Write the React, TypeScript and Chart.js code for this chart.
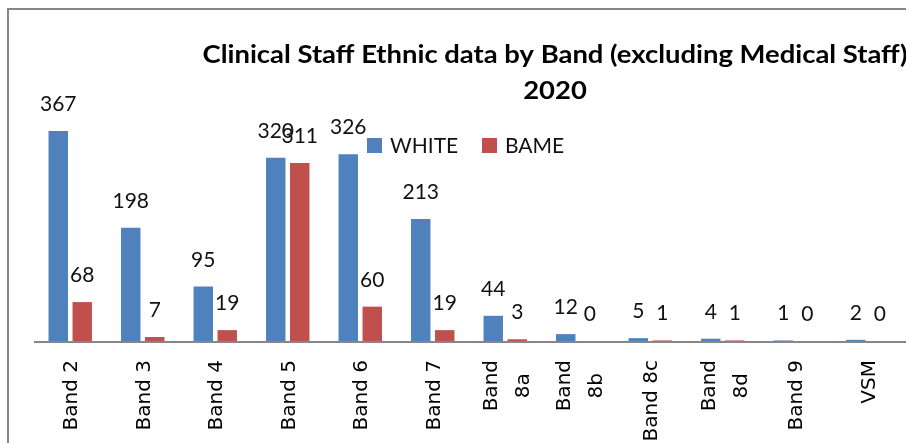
import { useEffect, useRef } from "react";
import { Chart, registerables } from "chart.js";

Chart.register(...registerables);

const categories: string[][] = [
  ["Band 2"], ["Band 3"], ["Band 4"], ["Band 5"], ["Band 6"], ["Band 7"],
  ["Band", "8a"], ["Band", "8b"], ["Band 8c"], ["Band", "8d"], ["Band 9"], ["VSM"],
];
const whiteValues = [367, 198, 95, 320, 326, 213, 44, 12, 5, 4, 1, 2];
const bameValues = [68, 7, 19, 311, 60, 19, 3, 0, 1, 1, 0, 0];
const seriesNames = ["WHITE", "BAME"];
const seriesColors = ["#4F81BD", "#C0504D"];
const titleLines = ["Clinical Staff Ethnic data by Band (excluding Medical Staff)", "2020"];
const yMax = 400;

const customPlugin = {
  id: "customDraw",
  beforeDraw(chart: any) {
    const ctx = chart.ctx;
    ctx.save();
    ctx.fillStyle = "#ffffff";
    ctx.fillRect(0, 0, chart.width, chart.height);
    ctx.restore();
  },
  beforeDatasetsDraw(chart: any) {
    const ctx = chart.ctx;
    const y0 = chart.scales.y.getPixelForValue(0);
    ctx.save();
    ctx.fillStyle = "#878787";
    ctx.fillRect(chart.chartArea.left, y0, chart.width - chart.chartArea.left, 2);
    ctx.restore();
  },
  afterDraw(chart: any) {
    const ctx = chart.ctx;
    const xs = chart.scales.x;
    const y0 = chart.scales.y.getPixelForValue(0);
    ctx.save();
    // frame
    ctx.strokeStyle = "#878787";
    ctx.lineWidth = 2;
    ctx.beginPath();
    ctx.moveTo(8, chart.height + 2);
    ctx.lineTo(8, 9);
    ctx.lineTo(chart.width + 2, 9);
    ctx.stroke();

    // data labels
    ctx.fillStyle = "#111111";
    ctx.font = "21px Lato";
    ctx.textAlign = "center";
    ctx.textBaseline = "alphabetic";
    chart.data.datasets.forEach((ds: any, di: number) => {
      const meta = chart.getDatasetMeta(di);
      meta.data.forEach((el: any, i: number) => {
        ctx.fillText(String(ds.data[i]), el.x, el.y - 20);
      });
    });

    // category labels (rotated)
    ctx.font = "20px 'DejaVu Sans'";
    ctx.fillStyle = "#000000";
    ctx.textBaseline = "middle";
    const top = y0 + 19;
    categories.forEach((lines, i) => {
      const cx = xs.getPixelForValue(i);
      ctx.save();
      ctx.translate(cx, top);
      ctx.rotate(-Math.PI / 2);
      if (lines.length === 1) {
        ctx.textAlign = "right";
        ctx.fillText(lines[0], 0, 2);
      } else {
        const w = Math.max(...lines.map((l) => ctx.measureText(l).width));
        ctx.textAlign = "center";
        ctx.fillText(lines[0], -w / 2, -13);
        ctx.fillText(lines[1], -w / 2, 19);
      }
      ctx.restore();
    });

    // legend
    const legendX = [367, 482];
    ctx.font = "21px Lato";
    ctx.textAlign = "left";
    ctx.textBaseline = "alphabetic";
    seriesNames.forEach((name, i) => {
      ctx.fillStyle = seriesColors[i];
      ctx.fillRect(legendX[i], 138, 15, 15);
      ctx.fillStyle = "#111111";
      ctx.fillText(name, legendX[i] + 23, 153);
    });

    // title
    ctx.fillStyle = "#000000";
    ctx.font = "bold 24px Lato";
    ctx.textAlign = "center";
    const w1 = ctx.measureText(titleLines[0]).width;
    const sx = 705 / w1;
    ctx.save();
    ctx.translate(555, 63);
    ctx.scale(sx, 1);
    ctx.fillText(titleLines[0], 0, 0);
    ctx.restore();
    ctx.save();
    ctx.translate(555, 99);
    ctx.scale(sx, 1);
    ctx.fillText(titleLines[1], 0, 0);
    ctx.restore();

    ctx.restore();
  },
};

export default function App() {
  const ref = useRef<HTMLCanvasElement | null>(null);
  useEffect(() => {
    if (!ref.current) return;
    const chart = new Chart(ref.current, {
      type: "bar",
      data: {
        labels: categories,
        datasets: [
          {
            label: seriesNames[0],
            data: whiteValues,
            backgroundColor: seriesColors[0],
            categoryPercentage: 0.662,
            barPercentage: 0.81,
          },
          {
            label: seriesNames[1],
            data: bameValues,
            backgroundColor: seriesColors[1],
            categoryPercentage: 0.662,
            barPercentage: 0.81,
          },
        ],
      },
      options: {
        responsive: false,
        animation: false,
        layout: { padding: { left: 34, right: 2, top: 112, bottom: 102 } },
        plugins: {
          legend: { display: false },
          title: { display: false },
          tooltip: { enabled: false },
        },
        scales: {
          x: { display: false },
          y: { display: false, min: 0, max: yMax },
        },
      },
      plugins: [customPlugin],
    });
    return () => chart.destroy();
  }, []);
  return (
    <div style={{ position: "absolute", left: 0, top: 0, width: 906, height: 443 }}>
      <canvas ref={ref} width={906} height={443} style={{ display: "block" }} />
    </div>
  );
}
